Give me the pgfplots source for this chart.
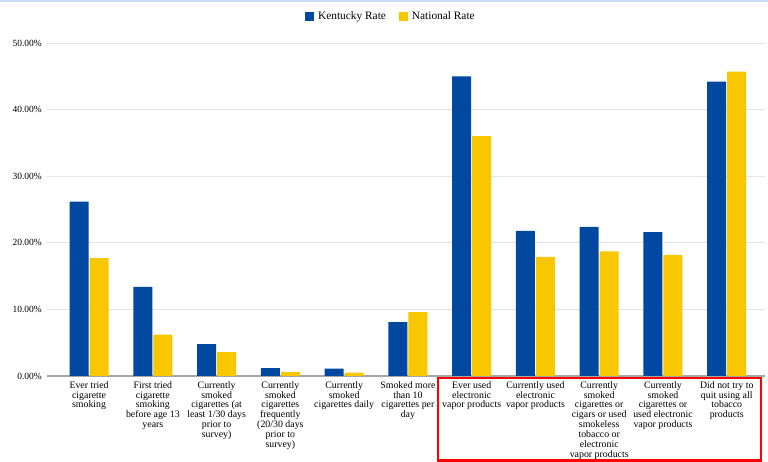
\documentclass[border=0pt]{standalone}
\usepackage{pgfplots}
\pgfplotsset{compat=1.18}
\usepackage{fontspec}
\setmainfont{Liberation Serif}
\definecolor{kyblue}{HTML}{0048A0}
\definecolor{natyellow}{HTML}{F8C700}
\definecolor{gridgray}{HTML}{E4E4E4}
\definecolor{topblue}{HTML}{C9DDF2}
\begin{document}
\begin{tikzpicture}
\path[use as bounding box] (0,0) rectangle (768bp,462bp);
\fill[topblue] (0,460bp) rectangle (768bp,462bp);
\begin{axis}[
  at={(47bp,86bp)}, anchor=south west,
  scale only axis, width=718bp, height=333bp,
  ybar=1bp, bar width=19bp,
  xmin=-0.66, xmax=10.6, ymin=0, ymax=50,
  xtick={0,...,10},
  xticklabels={
    {Ever tried\\cigarette\\smoking},
    {First tried\\cigarette\\smoking\\before age 13\\years},
    {Currently\\smoked\\cigarettes (at\\least 1/30 days\\prior to\\survey)},
    {Currently\\smoked\\cigarettes\\frequently\\(20/30 days\\prior to\\survey)},
    {Currently\\smoked\\cigarettes daily},
    {Smoked more\\than 10\\cigarettes per\\day},
    {Ever used\\electronic\\vapor products},
    {Currently used\\electronic\\vapor products},
    {Currently\\smoked\\cigarettes or\\cigars or used\\smokeless\\tobacco or\\electronic\\vapor products},
    {Currently\\smoked\\cigarettes or\\used electronic\\vapor products},
    {Did not try to\\quit using all\\tobacco\\products}},
  xticklabel style={align=center, font=\fontsize{9.9}{10}\selectfont, anchor=north, inner sep=0pt, yshift=-5bp},
  ytick={0,10,20,30,40,50},
  yticklabels={0.00\%,10.00\%,20.00\%,30.00\%,40.00\%,50.00\%},
  yticklabel style={font=\fontsize{9.5}{10}\selectfont, inner sep=0pt, xshift=-5bp},
  major tick length=0pt,
  ymajorgrids, grid style={gridgray, line width=1bp},
  axis x line=bottom, axis y line=left,
  axis line style={-},
  x axis line style={draw=gray!70, line width=1.2bp},
  y axis line style={draw=none},
  legend style={at={(0.479,1.081)}, anchor=center, draw=none, legend columns=2,
    font=\fontsize{11.4}{12}\selectfont,
    /tikz/every odd column/.append style={column sep=2bp},
    /tikz/every even column/.append style={column sep=11bp}},
  legend image code/.code={\fill[#1] (0bp,-4.5bp) rectangle (9bp,4.5bp);},
]
\addplot[fill=kyblue, draw=none] coordinates {
 (0,26.2) (1,13.4) (2,4.8) (3,1.2) (4,1.1) (5,8.1) (6,45.0) (7,21.8) (8,22.4) (9,21.6) (10,44.2)};
\addplot[fill=natyellow, draw=none] coordinates {
 (0,17.7) (1,6.2) (2,3.6) (3,0.6) (4,0.5) (5,9.6) (6,36.0) (7,17.9) (8,18.7) (9,18.2) (10,45.7)};
\legend{Kentucky Rate, National Rate}
\end{axis}
\draw[red, line width=2.5bp] (438bp,1.3bp) rectangle (761bp,84bp);
\end{tikzpicture}
\end{document}
